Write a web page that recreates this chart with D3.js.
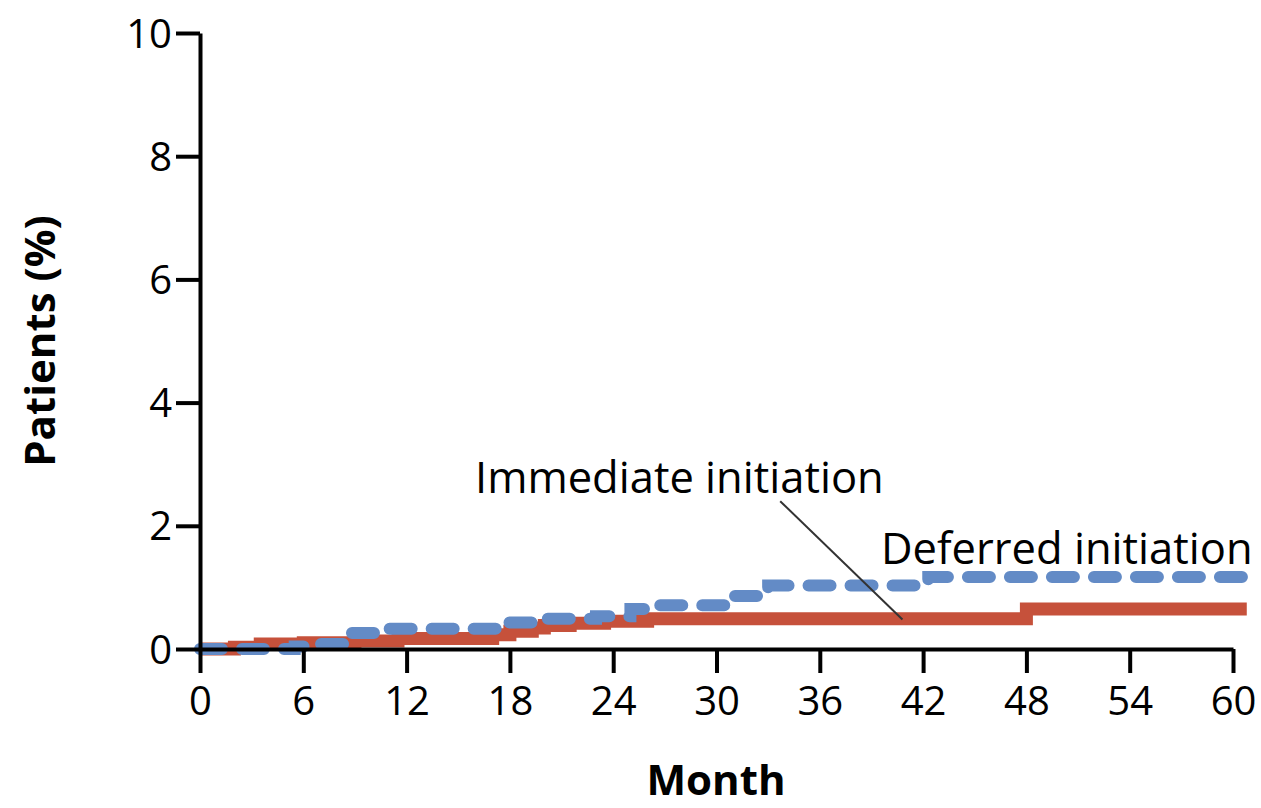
<!DOCTYPE html>
<html>
<head>
<meta charset="utf-8">
<script src="https://cdn.jsdelivr.net/npm/d3@7"></script>
<style>
  body { margin: 0; background: #fff; }
  text { font-family: 'Open Sans', sans-serif; fill: #000; }
</style>
</head>
<body>
<div id="chart"></div>
<script>
// months and cumulative % of patients
const immediateMonths = [0, 2, 3.5, 6, 9, 11.5, 17, 18, 19.3, 20, 21.5, 23.5, 26, 48, 60.8];
const immediateValues = [0, 0.03, 0.08, 0.1, 0.13, 0.17, 0.23, 0.29, 0.34, 0.38, 0.42, 0.45, 0.49, 0.65, 0.65];
const deferredMonths = [0, 5.5, 7, 8.7, 10.7, 17.7, 19.7, 23, 25, 26.5, 30.5, 33, 42.3, 60.9];
const deferredValues = [0, 0.04, 0.08, 0.26, 0.33, 0.43, 0.49, 0.53, 0.65, 0.71, 0.86, 1.03, 1.17, 1.17];
const xTicks = [0, 6, 12, 18, 24, 30, 36, 42, 48, 54, 60];
const yTicks = [0, 2, 4, 6, 8, 10];

const width = 1261, height = 808;
const margin = { top: 33, right: 28, bottom: 159, left: 200 };

const svg = d3.select('#chart').append('svg')
  .attr('width', width)
  .attr('height', height);

const x = d3.scaleLinear().domain([0, 60]).range([margin.left, width - margin.right]);
const y = d3.scaleLinear().domain([0, 10]).range([height - margin.bottom, margin.top]);

const line = d3.line()
  .x(d => x(d[0]))
  .y(d => y(d[1]))
  .curve(d3.curveStepAfter);

const immediate = immediateMonths.map((m, i) => [m, immediateValues[i]]);
const deferred = deferredMonths.map((m, i) => [m, deferredValues[i]]);

svg.append('path')
  .datum(immediate)
  .attr('d', line)
  .attr('fill', 'none')
  .attr('stroke', '#c6513b')
  .attr('stroke-width', 13);

svg.append('path')
  .datum(deferred)
  .attr('d', line)
  .attr('fill', 'none')
  .attr('stroke', '#638bc6')
  .attr('stroke-width', 12)
  .attr('stroke-linecap', 'round')
  .attr('stroke-dasharray', '22 20');

// axes
const xAxis = svg.append('g')
  .attr('transform', `translate(0,${y(0)})`)
  .call(d3.axisBottom(x).tickValues(xTicks).tickSize(24).tickSizeOuter(0).tickPadding(14));

const yAxis = svg.append('g')
  .attr('transform', `translate(${x(0)},0)`)
  .call(d3.axisLeft(y).tickValues(yTicks).tickSize(24).tickSizeOuter(0).tickPadding(4));

[xAxis, yAxis].forEach(ax => {
  ax.select('.domain').attr('stroke', '#000').attr('stroke-width', 4);
  ax.selectAll('.tick line').attr('stroke', '#000').attr('stroke-width', 4);
  ax.selectAll('.tick text')
    .attr('font-family', "'Open Sans', sans-serif")
    .attr('font-size', 40)
    .attr('fill', '#000');
});
yAxis.selectAll('.tick text').attr('dy', '0.35em');

// axis titles
svg.append('text')
  .attr('x', 716)
  .attr('y', 795)
  .attr('text-anchor', 'middle')
  .attr('font-size', 42)
  .attr('font-weight', 'bold')
  .text('Month');

svg.append('text')
  .attr('transform', 'translate(55,341) rotate(-90)')
  .attr('text-anchor', 'middle')
  .attr('font-size', 42)
  .attr('font-weight', 'bold')
  .text('Patients (%)');

// curve labels
svg.append('text')
  .attr('x', 475)
  .attr('y', 493)
  .attr('font-size', 43.5)
  .text('Immediate initiation');

svg.append('text')
  .attr('x', 881)
  .attr('y', 564)
  .attr('font-size', 43.5)
  .text('Deferred initiation');

svg.append('line')
  .attr('x1', x(33.7))
  .attr('y1', y(2.4))
  .attr('x2', x(40.8))
  .attr('y2', y(0.48))
  .attr('stroke', '#333')
  .attr('stroke-width', 2);
</script>
</body>
</html>
